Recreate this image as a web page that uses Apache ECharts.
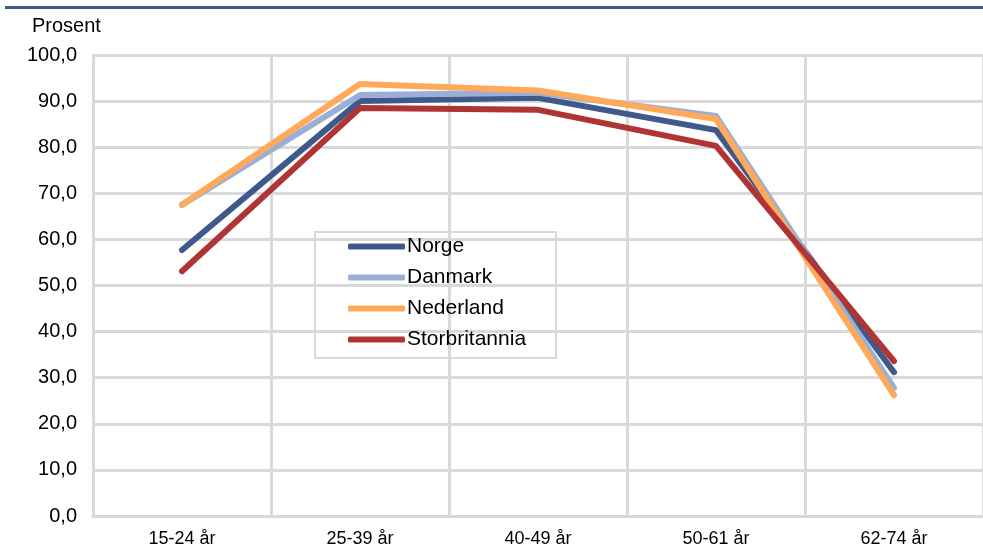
<!DOCTYPE html>
<html>
<head>
<meta charset="utf-8">
<script src="https://cdn.jsdelivr.net/npm/echarts@6/dist/echarts.min.js"></script>
<style>
  html, body { margin: 0; padding: 0; background: #fff; }
  #chart { width: 983px; height: 556px; }
</style>
</head>
<body>
<div id="chart"></div>
<script>
// age groups on x axis
const categories = ['15-24 år', '25-39 år', '40-49 år', '50-61 år', '62-74 år'];

// percent per country
const norge = [57.7, 90.0, 90.7, 83.7, 31.2];
const danmark = [67.5, 91.3, 91.8, 86.8, 27.8];
const nederland = [67.5, 93.7, 92.3, 86.1, 26.2];
const storbritannia = [53.1, 88.5, 88.1, 80.3, 33.6];

const yTicks = { min: 0, max: 100, interval: 10 };

const chart = echarts.init(document.getElementById('chart'));

const mkLine = (name, data, color) => ({
  name: name,
  type: 'line',
  data: data,
  symbol: 'none',
  lineStyle: { color: color, width: 6, cap: 'round', join: 'round' },
  itemStyle: { color: color },
  emphasis: { disabled: true }
});

chart.setOption({
  animation: false,
  backgroundColor: '#fff',
  textStyle: { fontFamily: 'Liberation Sans, Arial, sans-serif' },
  title: {
    text: 'Prosent',
    left: 27,
    top: 11,
    textStyle: { fontSize: 20, fontWeight: 'normal', color: '#000' }
  },
  graphic: [{
    type: 'rect',
    shape: { x: 5, y: 6, width: 978, height: 3 },
    style: { fill: '#3F5A8A' },
    silent: true
  }],
  legend: {
    orient: 'vertical',
    left: 315,
    top: 232,
    padding: [4, 30, 8, 33],
    itemWidth: 57,
    itemHeight: 6,
    itemGap: 10,
    icon: 'roundRect',
    borderColor: '#d9d9d9',
    borderWidth: 2,
    textStyle: { fontSize: 21, color: '#000', padding: [0, 0, 0, -3] }
  },
  grid: { left: 93, right: 0, top: 55, bottom: 40 },
  xAxis: {
    type: 'category',
    data: categories,
    boundaryGap: true,
    axisLine: { show: true, lineStyle: { color: '#d9d9d9', width: 3 } },
    axisTick: { show: false },
    axisLabel: { fontSize: 18, color: '#000', margin: 14 },
    splitLine: { show: true, lineStyle: { color: '#d9d9d9', width: 3 } }
  },
  yAxis: {
    type: 'value',
    min: yTicks.min,
    max: yTicks.max,
    interval: yTicks.interval,
    axisLine: { show: true, lineStyle: { color: '#d9d9d9', width: 3 } },
    axisTick: { show: false },
    axisLabel: {
      fontSize: 20,
      color: '#000',
      margin: 16,
      formatter: v => v.toFixed(1).replace('.', ',')
    },
    splitLine: { show: true, lineStyle: { color: '#d9d9d9', width: 3 } }
  },
  series: [
    mkLine('Norge', norge, '#3F5A8A'),
    mkLine('Danmark', danmark, '#9BAFD6'),
    mkLine('Nederland', nederland, '#FFA95A'),
    mkLine('Storbritannia', storbritannia, '#B03434')
  ]
});
</script>
</body>
</html>
